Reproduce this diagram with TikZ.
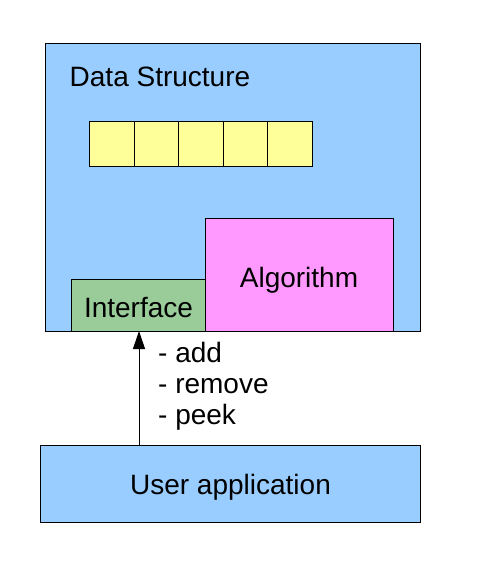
\documentclass[tikz,border=0pt]{standalone}
\usepackage{fontspec}
\setmainfont{Liberation Sans}
\usetikzlibrary{arrows.meta}
\definecolor{dsblue}{HTML}{99CCFF}
\definecolor{cellyellow}{HTML}{FFFF99}
\definecolor{algpink}{HTML}{FF99FF}
\definecolor{ifgreen}{HTML}{99CC99}
\tikzset{
  box/.style={draw=black, line width=1pt, inner sep=0pt, outer sep=0pt, anchor=north west},
  lbl/.style={inner sep=0pt, font=\fontsize{28}{31}\selectfont},
  cell/.style={box, fill=cellyellow, minimum width=44.6pt, minimum height=44pt},
}
\begin{document}
\begin{tikzpicture}[x=1pt,y=-1pt]
\useasboundingbox (0,0) rectangle (491,567);
% data structure container
\node[box, fill=dsblue, minimum width=375pt, minimum height=287pt] (ds) at (45,44) {};
\node[lbl, anchor=base west] (dstitle) at (69.5,87) {Data Structure};
% cells
\node[cell] (c1) at (89.5,122) {};
\node[cell] (c2) at (c1.north east) {};
\node[cell] (c3) at (c2.north east) {};
\node[cell] (c4) at (c3.north east) {};
\node[cell] (c5) at (c4.north east) {};
% algorithm
\node[box, fill=algpink, minimum width=188pt, minimum height=113pt] (alg) at (205,218) {};
\node[lbl, anchor=base] (algt) at (299,287) {Algorithm};
% interface
\node[box, fill=ifgreen, minimum width=133.5pt, minimum height=52pt] (intf) at (71.5,279) {};
\node[lbl, anchor=base] (intft) at (138.5,317) {Interface};
% user application
\node[box, fill=dsblue, minimum width=379.5pt, minimum height=77.5pt] (user) at (40.5,445) {};
\node[lbl, anchor=base] (usert) at (230.5,494) {User application};
% arrow
\coordinate (abot) at (139,445);
\coordinate (atop) at (139,331);
\draw[line width=1pt, -{Triangle[length=18pt, width=12pt]}] (abot) -- (atop);
% operation labels
\node[lbl, anchor=base west] (op1) at (158,362) {- add};
\node[lbl, anchor=base west] (op2) at (158,393) {- remove};
\node[lbl, anchor=base west] (op3) at (158,424.5) {- peek};
\end{tikzpicture}
\end{document}
